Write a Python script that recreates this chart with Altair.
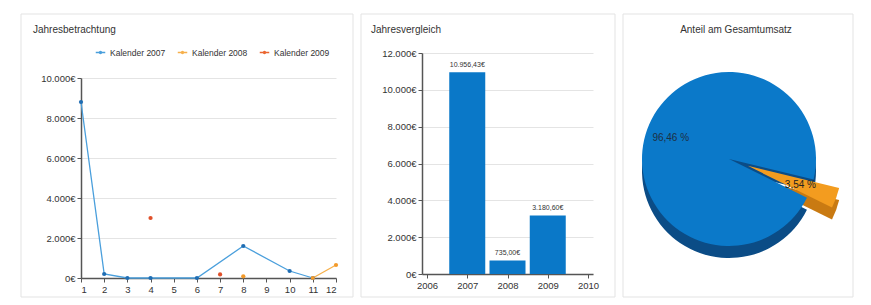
import altair as alt
import pandas as pd
import math

# ---------------- data ----------------
months = list(range(1, 13))
series_names = ["Kalender 2007", "Kalender 2008", "Kalender 2009"]

k2007_months = [1, 2, 3, 4, 6, 8, 10, 11]
k2007_values = [8800, 200, 0, 0, 0, 1600, 350, 0]
k2007_segments = ["a", "a", "a", "a", "a", "a", "a", "a"]

k2008_months = [8, 11, 12]
k2008_values = [85, 0, 650]
k2008_segments = ["a", "b", "b"]

k2009_months = [4, 7]
k2009_values = [3000, 180]
k2009_segments = ["a", "b"]

years = [2007, 2008, 2009]
year_totals = [10956.43, 735.00, 3180.60]
year_ticks = [2006, 2007, 2008, 2009, 2010]

pie_names = ["Anteil", "Rest"]
pie_shares = [96.46, 3.54]
pie_labels = ["96,46 %", "3,54 %"]

panel_titles = ["Jahresbetrachtung", "Jahresvergleich", "Anteil am Gesamtumsatz"]

FONT = "Liberation Sans"
TXT = "#333333"
FRAME = "#e3e3e3"

rows = []
for name, ms, vs, sg in [
    (series_names[0], k2007_months, k2007_values, k2007_segments),
    (series_names[1], k2008_months, k2008_values, k2008_segments),
    (series_names[2], k2009_months, k2009_values, k2009_segments),
]:
    for m, v, s in zip(ms, vs, sg):
        rows.append({"month": m, "value": v, "series": name, "seg": name + s})
line_df = pd.DataFrame(rows)

one = pd.DataFrame({"k": [0]})


def frame(x1, x2, y1, y2):
    return alt.Chart(one).mark_rect(fillOpacity=0, stroke=FRAME, strokeWidth=1).encode(
        x=alt.value(x1), x2=alt.value(x2), y=alt.value(y1), y2=alt.value(y2))


def heading(text, x, y, align):
    return alt.Chart(pd.DataFrame({"t": [text]})).mark_text(
        fontSize=10, color=TXT, font=FONT, align=align, baseline="middle"
    ).encode(text="t:N", x=alt.value(x), y=alt.value(y))


euro_axis = "replace(format(datum.value, ','), ',', '.') + '€'"
axis_common = dict(title=None, domainColor="#555", domainWidth=1.5, tickColor="#555",
                   tickSize=4, labelColor=TXT, labelPadding=2)

# ---------------- panel 1: line chart ----------------
x_line = alt.X("month:Q", scale=alt.Scale(domain=[1, 12], nice=False),
               axis=alt.Axis(values=months, format="d", grid=False, labelFontSize=9.5,
                             **axis_common))
y_line = alt.Y("value:Q", scale=alt.Scale(domain=[0, 10000], nice=False, range=[225, 25]),
               axis=alt.Axis(values=[0, 2000, 4000, 6000, 8000, 10000], labelExpr=euro_axis,
                             gridColor="#e4e4e4", labelFontSize=9.5, **axis_common))

legend_symbol = "M-1,0L1,0M-0.22,0A0.22,0.22 0 1,0 0.22,0A0.22,0.22 0 1,0 -0.22,0"
line_colors = ["#4a9fdc", "#f6b04c", "#ea6630"]
point_colors = ["#1f6db3", "#f39a2a", "#e0502a"]

lines = alt.Chart(line_df).mark_line(strokeWidth=1.3).encode(
    x=x_line, y=y_line,
    color=alt.Color("series:N", scale=alt.Scale(domain=series_names, range=line_colors),
                    legend=alt.Legend(title=None, orient="none", legendX=14, legendY=-6,
                                      direction="horizontal", symbolType=legend_symbol,
                                      symbolSize=90, symbolStrokeWidth=1.3,
                                      labelFontSize=8.5, labelColor=TXT, columnPadding=9,
                                      labelOffset=4)),
    detail="seg:N",
)
points = alt.Chart(line_df).mark_point(filled=True, size=18, opacity=1).encode(
    x=x_line, y=y_line,
    color=alt.Color("series:N", scale=alt.Scale(domain=series_names, range=point_colors),
                    legend=None),
)
panel1 = alt.layer(frame(-60, 272, -39, 244), heading(panel_titles[0], -48, -23, "left"),
                   lines, points).resolve_scale(color="independent").properties(
    width=255, height=225)

# ---------------- panel 2: bar chart ----------------
bar_df = pd.DataFrame({"year": years, "total": year_totals})
x_bar = alt.X("year:Q", scale=alt.Scale(domain=[2006, 2010], nice=False),
              axis=alt.Axis(values=year_ticks, format="d", grid=False, labelFontSize=9.5,
                            **axis_common))
y_bar = alt.Y("total:Q", scale=alt.Scale(domain=[0, 12000], nice=False),
              axis=alt.Axis(values=[0, 2000, 4000, 6000, 8000, 10000, 12000],
                            labelExpr=euro_axis, gridColor="#e4e4e4", labelFontSize=9.5,
                            **axis_common))
bars = alt.Chart(bar_df).mark_bar(size=36, color="#0a78c8").encode(x=x_bar, y=y_bar)
bar_text = alt.Chart(bar_df).transform_calculate(
    lbl="replace(replace(replace(format(datum.total, ',.2f'), ',', '#'), '.', ','), '#', '.') + '€'"
).mark_text(baseline="bottom", dy=-4, fontSize=7, color=TXT, font=FONT).encode(
    x=x_bar, y=y_bar, text="lbl:N")
panel2 = alt.layer(frame(-61, 193, -39, 244), heading(panel_titles[1], -51, -23, "left"),
                   bars, bar_text).properties(width=171, height=221)

# ---------------- panel 3: pie ----------------
pie_df = pd.DataFrame({"name": pie_names, "share": pie_shares, "label": pie_labels,
                       "order": [0, 1]})
a0 = 2.031
theta_scale = alt.Scale(domain=[0, 100], range=[a0, a0 + 2 * math.pi])
R = 87
R_OR = 94
DEPTH = 12
ang = math.radians(110)
ex, ey = 20 * math.sin(ang), -20 * math.cos(ang)
PIE_W = 230
PIE_CX = 106

pie_base = alt.Chart(pie_df).transform_stack(
    stack="share", groupby=[], as_=["t0", "t1"], sort=[alt.SortField("order")]
).transform_calculate(tm="(datum.t0 + datum.t1) / 2")


def arc(name, color, dx, dy, r):
    return pie_base.transform_filter(alt.datum.name == name).mark_arc(
        radius=r, color=color, xOffset=dx, yOffset=dy
    ).encode(theta=alt.Theta("t0:Q", scale=theta_scale), theta2="t1:Q",
             x=alt.value(PIE_CX))


side_blue = arc(pie_names[0], "#0b4c86", 0, DEPTH, R)
side_orange = arc(pie_names[1], "#c97a12", ex, ey + DEPTH, R_OR)
top_blue = arc(pie_names[0], "#0b79c9", 0, 0, R)
top_orange = arc(pie_names[1], "#f39c1f", ex, ey, R_OR)

lbl_blue = pie_base.transform_filter(alt.datum.name == pie_names[0]).mark_text(
    fontSize=10, color="#1d2f44", font=FONT, radius=62, align="center"
).encode(theta=alt.Theta("tm:Q", scale=theta_scale), text="label:N", x=alt.value(PIE_CX))
lbl_orange = pie_base.transform_filter(alt.datum.name == pie_names[1]).mark_text(
    fontSize=10, color="#222", font=FONT, radius=56, align="center", xOffset=ex, yOffset=ey
).encode(theta=alt.Theta("tm:Q", scale=theta_scale), text="label:N", x=alt.value(PIE_CX))

panel3 = alt.layer(frame(0, PIE_W, -39, 244), heading(panel_titles[2], 113, -23, "center"),
                   side_blue, side_orange, top_blue, top_orange,
                   lbl_blue, lbl_orange).properties(width=PIE_W, height=212)

chart = alt.hconcat(panel1, panel2, panel3, spacing=6).properties(
    padding={"left": 12, "top": 5, "right": 0, "bottom": 0},
    background="white",
).configure(font=FONT).configure_view(
    strokeWidth=0, stroke="transparent").configure_axis(
    labelFont=FONT).configure_legend(labelFont=FONT)

chart.save("out.html", embed_options={"renderer": "svg", "actions": False})
